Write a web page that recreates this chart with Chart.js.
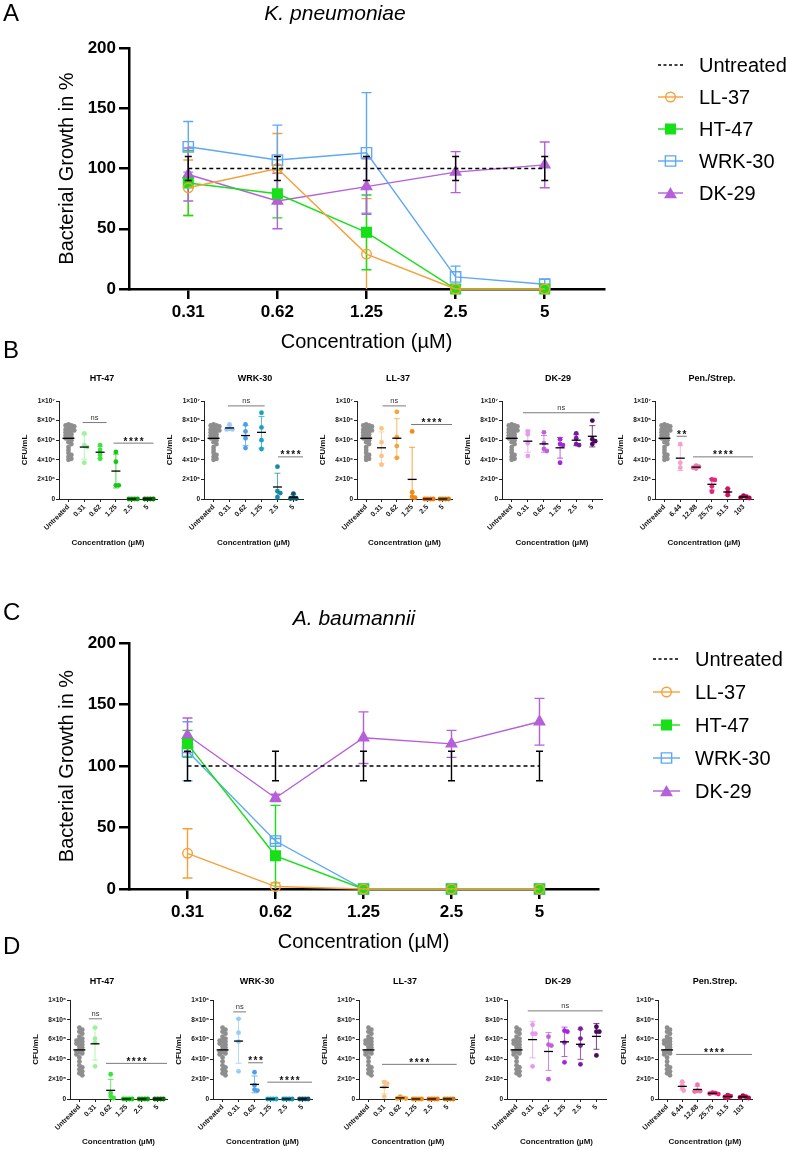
<!DOCTYPE html>
<html>
<head>
<meta charset="utf-8">
<script src="https://cdn.jsdelivr.net/npm/chart.js@4.4.1/dist/chart.umd.min.js"></script>
<style>
  body { margin: 0; background: #fff; font-family: "Liberation Sans", Arial, sans-serif; }
  #page { position: relative; width: 787px; height: 1150px; overflow: hidden; }
  canvas { position: absolute; }
  .letter { position: absolute; left: 3px; font-size: 24px; line-height: 24px; z-index: 2; }
  .species { position: absolute; width: 300px; text-align: center; font-size: 21px; line-height: 21px; font-style: italic; z-index: 2; }
</style>
</head>
<body>
<div id="page">
  <div class="letter" style="top:1px">A</div>
  <div class="letter" style="top:338px">B</div>
  <div class="letter" style="top:600px">C</div>
  <div class="letter" style="top:934px">D</div>
  <div class="species" style="left:185px;top:2px">K. pneumoniae</div>
  <div class="species" style="left:204px;top:607px">A. baumannii</div>
</div>
<script>
// ---- growth curves (% of untreated, mean and SD) ----
const concLabels = ['0.31', '0.62', '1.25', '2.5', '5'];

const kpUntreated = [100, 100, 100, 100, 100];
const kpUntreatedSd = [10, 10, 10, 10, 10];
const kpLL37 = [84, 100, 29, 0, 0];
const kpLL37Sd = [23, 29, 46, 0, 0];
const kpHT47 = [88, 79, 47, 0, 0];
const kpHT47Sd = [27, 20, 31, 0, 0];
const kpWRK30 = [118, 107, 113, 10, 4];
const kpWRK30Sd = [21, 29, 50, 9, 4];
const kpDK29 = [95, 73, 85, 97, 103];
const kpDK29Sd = [22, 23, 23, 17, 19];

const abUntreated = [100, 100, 100, 100, 100];
const abUntreatedSd = [12, 12, 12, 12, 12];
const abLL37 = [29, 2, 0, 0, 0];
const abLL37Sd = [20, 3, 0, 0, 0];
const abHT47 = [118, 27, 0, 0, 0];
const abHT47Sd = [11, 41, 0, 0, 0];
const abWRK30 = [112, 39, 0, 0, 0];
const abWRK30Sd = [24, 2, 0, 0, 0];
const abDK29 = [125, 74, 123, 118, 136];
const abDK29Sd = [14, 3, 21, 11, 19];

// ---- CFU/mL dot plots ----
const peptideDoses = ['Untreated', '0.31', '0.62', '1.25', '2.5', '5'];
const penStrepDoses = ['Untreated', '6.44', '12.88', '25.75', '51.5', '103'];

// K. pneumoniae, units of 10^6 CFU/mL
const kpCfuUntreated = [7.6, 7.5, 7.5, 7.4, 7.3, 7.2, 7.1, 7.0, 7.0, 6.9, 6.8, 6.7, 6.6, 6.5,
  6.4, 6.3, 6.2, 6.1, 6.0, 5.8, 5.6, 5.3, 5.0, 4.7, 4.5, 4.3, 4.1, 4.0];
const kpCfuHT47 = [[6.7, 5.5, 5.3, 3.7], [5.5, 5.0, 4.5, 4.1], [4.8, 3.8, 1.4, 1.4], [0, 0, 0, 0], [0, 0, 0, 0]];
const kpCfuWRK30 = [[7.6, 7.2, 7.1, 7.1], [7.6, 6.9, 6.2, 5.2], [8.8, 7.3, 6.0, 5.1], [3.3, 0.8, 0.6, 0.2], [0.55, 0.1, 0.05, 0.05]];
const kpCfuLL37 = [[7.2, 5.8, 4.4, 3.5], [8.9, 6.3, 5.4, 4.2], [6.9, 0.7, 0.25, 0.15], [0, 0, 0, 0], [0, 0, 0, 0]];
const kpCfuDK29 = [[6.9, 6.6, 5.7, 4.4], [6.8, 5.7, 5.1, 4.9], [6.1, 5.6, 5.5, 3.7], [6.7, 6.2, 5.6, 5.5], [8.0, 6.1, 5.9, 5.6]];
const kpCfuPenStrep = [[5.6, 3.7, 3.2], [3.4, 3.3, 3.2, 3.1], [2.0, 1.95, 1.3, 0.75], [1.05, 0.7, 0.4], [0.35, 0.25, 0.15, 0.1]];

// A. baumannii, units of 10^5 CFU/mL
const abCfuUntreated = [7.2, 7.0, 6.8, 6.6, 6.3, 6.1, 6.0, 5.9, 5.8, 5.7, 5.6, 5.5, 5.3, 5.2,
  5.0, 4.9, 4.8, 4.7, 4.6, 4.5, 4.2, 3.8, 3.4, 3.2, 3.0, 2.8, 2.6, 2.4];
const abCfuHT47 = [[7.2, 6.1, 5.7, 3.3], [2.5, 0.6, 0.3, 0.1], [0, 0, 0, 0], [0, 0, 0, 0], [0, 0, 0, 0]];
const abCfuWRK30 = [[8.1, 6.7, 5.8, 2.8], [2.7, 1.4, 0.95, 0.85], [0, 0, 0, 0], [0, 0, 0, 0], [0, 0, 0, 0]];
const abCfuLL37 = [[1.7, 1.55, 1.2, 0.25], [0.25, 0.1, 0.05, 0.05], [0, 0, 0, 0], [0, 0, 0, 0], [0, 0, 0, 0]];
const abCfuDK29 = [[7.5, 6.6, 6.6, 3.3], [6.3, 5.5, 5.4, 2.0], [6.9, 6.8, 5.7, 3.7], [7.1, 6.1, 5.4, 3.5], [7.3, 6.8, 6.8, 4.4]];
const abCfuPenStrep = [[1.75, 1.4, 1.1, 0.85], [1.45, 0.85, 0.8, 0.75], [0.65, 0.6, 0.55, 0.5], [0.4, 0.3, 0.2, 0.1], [0.35, 0.25, 0.15, 0.1]];

// colours
const untreatedGray = '#8e8e8e';
const ht47Colors = ['#9ef09e', '#3be33b', '#14c814', '#0a9a0a', '#046b04'];
const wrk30Colors = ['#9ccbf5', '#4e9fea', '#1ca4be', '#158aa3', '#0e5468'];
const ll37Colors = ['#f9c48a', '#f6a437', '#f58a12', '#f27512', '#c97a16'];
const dk29Colors = ['#e59beb', '#c160da', '#a526e0', '#7a1b9e', '#4b0a5c'];
const penColors = ['#f5a0c6', '#f176ac', '#e8237e', '#cf1263', '#a30d4d'];

Chart.defaults.font.family = '"Liberation Sans", Arial, sans-serif';
Chart.defaults.color = '#000';

function addCanvas(left, top, w, h) {
  const c = document.createElement('canvas');
  c.width = w;
  c.height = h;
  c.style.left = left + 'px';
  c.style.top = top + 'px';
  c.style.width = w + 'px';
  c.style.height = h + 'px';
  document.getElementById('page').appendChild(c);
  return c;
}

// draw a legend marker by hand
function marker(ctx, style, x, y, r, color, filled) {
  ctx.beginPath();
  if (style === 'circle') {
    ctx.arc(x, y, r, 0, Math.PI * 2);
  } else if (style === 'rect') {
    const s = r * Math.SQRT1_2;
    ctx.rect(x - s, y - s, 2 * s, 2 * s);
  } else if (style === 'triangle') {
    for (let k = 0; k < 3; k++) {
      const a = -Math.PI / 2 + k * 2 * Math.PI / 3;
      const px = x + Math.cos(a) * r, py = y + Math.sin(a) * r + r * 0.25;
      if (k === 0) ctx.moveTo(px, py); else ctx.lineTo(px, py);
    }
    ctx.closePath();
  }
  if (filled) { ctx.fillStyle = color; ctx.fill(); }
  ctx.strokeStyle = color;
  ctx.lineWidth = 1.4;
  ctx.stroke();
}

function growthChart(top, areaTop, padRight, series, legend) {
  const cv = addCanvas(0, top, 787, 360);
  const datasets = series.map(s => ({
    label: s.label,
    data: s.values.map((v, i) => ({ x: i, y: v })),
    sd: s.sd,
    borderColor: s.color,
    borderWidth: s.dashed ? 1.6 : 1.4,
    borderDash: s.dashed ? [4, 3] : [],
    pointStyle: s.pointStyle || 'circle',
    pointRadius: s.radius || 0,
    pointBackgroundColor: s.filled ? s.color : 'rgba(0,0,0,0)',
    pointBorderColor: s.color,
    pointBorderWidth: 1.4,
    clip: false,
    tension: 0
  }));

  const bars = (chart, black) => {
    const { ctx, scales: { x, y } } = chart;
    ctx.save();
    chart.data.datasets.forEach(ds => {
      const isBlack = ds.borderColor === '#000';
      if (isBlack !== black) return;
      ctx.strokeStyle = ds.borderColor;
      ctx.lineWidth = 1.4;
      const cap = black ? 3.5 : 5;
      ds.data.forEach((p, i) => {
        const s = ds.sd[i];
        if (!s) return;
        const px = x.getPixelForValue(p.x);
        const t = y.getPixelForValue(p.y + s);
        const b = y.getPixelForValue(Math.max(0, p.y - s));
        ctx.beginPath();
        ctx.moveTo(px, t); ctx.lineTo(px, b);
        ctx.moveTo(px - cap, t); ctx.lineTo(px + cap, t);
        if (p.y - s > 0) { ctx.moveTo(px - cap, b); ctx.lineTo(px + cap, b); }
        ctx.stroke();
      });
    });
    ctx.restore();
  };

  const extras = {
    id: 'growthExtras',
    beforeDatasetsDraw(chart) { bars(chart, false); },
    afterDatasetsDraw(chart) { bars(chart, true); },
    afterDraw(chart) {
      const ctx = chart.ctx;
      ctx.save();
      series.forEach((s, k) => {
        const y = legend.y0 + k * legend.step;
        ctx.strokeStyle = s.color;
        ctx.lineWidth = 1.4;
        ctx.setLineDash(s.dashed ? [3, 2.5] : []);
        ctx.beginPath();
        ctx.moveTo(legend.x0, y); ctx.lineTo(legend.x1, y);
        ctx.stroke();
        ctx.setLineDash([]);
        if (s.pointStyle) marker(ctx, s.pointStyle, (legend.x0 + legend.x1) / 2, y, s.radius, s.color, s.filled);
        ctx.fillStyle = '#000';
        ctx.font = '20px "Liberation Sans", Arial, sans-serif';
        ctx.textBaseline = 'middle';
        ctx.textAlign = 'left';
        ctx.fillText(s.label, legend.tx, y + 1);
      });
      ctx.restore();
    }
  };

  return new Chart(cv, {
    type: 'line',
    data: { datasets },
    options: {
      responsive: false,
      animation: false,
      events: [],
      layout: { padding: { left: 0, top: areaTop, right: padRight, bottom: 0 } },
      plugins: { legend: { display: false }, tooltip: { enabled: false } },
      scales: {
        x: {
          type: 'linear', min: -0.665, max: 4.665,
          afterBuildTicks: sc => { sc.ticks = concLabels.map((_, i) => ({ value: i })); },
          afterFit: sc => { sc.height = 71; },
          ticks: { callback: v => concLabels[v], font: { size: 17, weight: 'bold' }, color: '#000', padding: 3, maxRotation: 0 },
          grid: { drawOnChartArea: false, tickLength: 10, color: '#000', lineWidth: 2.5 },
          border: { color: '#000', width: 2.5 },
          title: { display: true, text: 'Concentration (µM)', font: { size: 20 }, color: '#000', padding: { top: 0, bottom: 6 } }
        },
        y: {
          min: 0, max: 200,
          afterFit: sc => { sc.width = 129; },
          ticks: { stepSize: 50, font: { size: 17, weight: 'bold' }, color: '#000', padding: 3 },
          grid: { drawOnChartArea: false, tickLength: 10, color: '#000', lineWidth: 2.5 },
          border: { color: '#000', width: 2.5 },
          title: { display: true, text: 'Bacterial Growth in %', font: { size: 20 }, color: '#000', padding: { top: 55, bottom: 0 } }
        }
      }
    },
    plugins: [extras]
  });
}

function styleSeries(u, uSd, ll, llSd, ht, htSd, wrk, wrkSd, dk, dkSd) {
  return [
    { label: 'Untreated', values: u, sd: uSd, color: '#000', dashed: true },
    { label: 'LL-37', values: ll, sd: llSd, color: '#f5a03a', pointStyle: 'circle', radius: 4.8, filled: false },
    { label: 'HT-47', values: ht, sd: htSd, color: '#16e016', pointStyle: 'rect', radius: 6.8, filled: true },
    { label: 'WRK-30', values: wrk, sd: wrkSd, color: '#5ea8f4', pointStyle: 'rect', radius: 7.3, filled: false },
    { label: 'DK-29', values: dk, sd: dkSd, color: '#b55fd9', pointStyle: 'triangle', radius: 6, filled: true }
  ];
}

growthChart(0, 48, 183,
  styleSeries(kpUntreated, kpUntreatedSd, kpLL37, kpLL37Sd, kpHT47, kpHT47Sd, kpWRK30, kpWRK30Sd, kpDK29, kpDK29Sd),
  { x0: 658, x1: 683, tx: 699, y0: 65, step: 32 });
growthChart(600, 43, 189,
  styleSeries(abUntreated, abUntreatedSd, abLL37, abLL37Sd, abHT47, abHT47Sd, abWRK30, abWRK30Sd, abDK29, abDK29Sd),
  { x0: 653, x1: 680, tx: 695, y0: 59, step: 33 });

// ---- dot plots ----
const SUP = '⁰¹²³⁴⁵⁶⁷⁸⁹';
function sciLabel(n) {
  if (n === 0) return '0';
  const e = Math.floor(Math.log10(n) + 1e-9);
  const m = Math.round(n / Math.pow(10, e));
  return m + '×10' + String(e).split('').map(d => SUP[+d]).join('');
}

function stats(vals) {
  const mean = vals.reduce((a, b) => a + b, 0) / vals.length;
  const varr = vals.reduce((a, b) => a + (b - mean) * (b - mean), 0) / Math.max(1, vals.length - 1);
  return { mean, sd: Math.sqrt(varr) };
}

// simple beeswarm so overlapping points sit side by side
function swarm(vals, pxPerUnit, catPx, r) {
  const placed = [];
  const out = new Array(vals.length).fill(0);
  const idx = vals.map((_, i) => i).sort((a, b) => vals[b] - vals[a]);
  const minD = r * 1.15;
  idx.forEach(i => {
    const y = vals[i] * pxPerUnit;
    let dx = 0;
    for (let s = 0; s < 60; s++) {
      dx = s === 0 ? 0 : (s % 2 ? 1 : -1) * Math.ceil(s / 2) * r * 0.6;
      if (placed.every(p => Math.hypot(p.x - dx, p.y - y) >= minD)) break;
    }
    placed.push({ x: dx, y });
    out[i] = dx / catPx;
  });
  return out;
}

const bRow = { top: 365, height: 190, areaTop: 36, areaBottom: 134, titleY: 14, unit: 1e6, xTitlePad: 7.2 };
const dRow = { top: 966, height: 184, areaTop: 34, areaBottom: 133, titleY: 16, unit: 1e5, xTitlePad: 3.2 };

function dotChart(row, untreated, p) {
  const left = p.axisX - 60;
  const width = 60 + p.w + 12;
  const cv = addCanvas(left, row.top, width, row.height);
  const groups = [untreated].concat(p.groups);
  const colors = [untreatedGray].concat(p.colors);
  const pxPerUnit = (row.areaBottom - row.areaTop) / 10;
  const catPx = p.w / 6.2;

  const datasets = groups.map((vals, i) => {
    const r = 2.4;
    const offs = swarm(vals, pxPerUnit, catPx, r);
    return {
      data: vals.map((v, k) => ({ x: i + offs[k], y: v })),
      pointRadius: r,
      pointBackgroundColor: colors[i],
      pointBorderWidth: 0,
      clip: false
    };
  });

  const extras = {
    id: 'dotExtras',
    beforeDatasetsDraw(chart) {
      const { ctx, scales: { x, y } } = chart;
      ctx.save();
      ctx.globalAlpha = 0.75;
      ctx.lineWidth = 1;
      groups.forEach((vals, i) => {
        if (i === 0) return;
        const st = stats(vals);
        if (st.sd < 1e-6) return;
        const px = x.getPixelForValue(i);
        const t = y.getPixelForValue(st.mean + st.sd);
        const b = y.getPixelForValue(Math.max(0, st.mean - st.sd));
        ctx.strokeStyle = colors[i];
        ctx.beginPath();
        ctx.moveTo(px, t); ctx.lineTo(px, b);
        ctx.moveTo(px - 3, t); ctx.lineTo(px + 3, t);
        ctx.moveTo(px - 3, b); ctx.lineTo(px + 3, b);
        ctx.stroke();
      });
      ctx.restore();
    },
    afterDatasetsDraw(chart) {
      const { ctx, chartArea, scales: { x, y } } = chart;
      ctx.save();
      ctx.strokeStyle = '#000';
      ctx.lineWidth = 1.3;
      groups.forEach((vals, i) => {
        const st = stats(vals);
        const px = x.getPixelForValue(i);
        const py = y.getPixelForValue(st.mean);
        const hw = i === 0 ? 6 : 4.5;
        ctx.beginPath();
        ctx.moveTo(px - hw, py); ctx.lineTo(px + hw, py);
        ctx.stroke();
      });
      // significance brackets
      p.brackets.forEach(b => {
        const x1 = x.getPixelForValue(b[0]), x2 = x.getPixelForValue(b[1]);
        const yy = y.getPixelForValue(b[2]);
        ctx.strokeStyle = '#7a7a7a';
        ctx.lineWidth = 1;
        ctx.beginPath();
        ctx.moveTo(x1, yy); ctx.lineTo(x2, yy);
        ctx.stroke();
        const stars = /^\*+$/.test(b[3]);
        ctx.textAlign = 'center';
        ctx.textBaseline = 'alphabetic';
        if (stars) {
          ctx.font = 'bold 10px "Liberation Sans", Arial, sans-serif';
          ctx.letterSpacing = '1.5px';
          ctx.fillStyle = '#111';
          ctx.fillText(b[3], (x1 + x2) / 2 + 0.75, yy + 1.5);
          ctx.letterSpacing = '0px';
        } else {
          ctx.font = '7.5px "Liberation Sans", Arial, sans-serif';
          ctx.fillStyle = '#333';
          ctx.fillText(b[3], (x1 + x2) / 2, yy - 3);
        }
      });
      // panel title
      ctx.fillStyle = '#000';
      ctx.font = 'bold 9px "Liberation Sans", Arial, sans-serif';
      ctx.textAlign = 'center';
      ctx.textBaseline = 'middle';
      ctx.fillText(p.title, chartArea.left + p.titleDx, row.titleY);
      ctx.restore();
    }
  };

  return new Chart(cv, {
    type: 'scatter',
    data: { datasets },
    options: {
      responsive: false,
      animation: false,
      events: [],
      layout: { padding: { left: 0, top: row.areaTop, right: 12, bottom: 0 } },
      plugins: { legend: { display: false }, tooltip: { enabled: false } },
      scales: {
        x: {
          type: 'linear', min: -0.6, max: 5.6,
          afterBuildTicks: sc => { sc.ticks = p.doses.map((_, i) => ({ value: i })); },
          afterFit: sc => { sc.height = row.height - row.areaBottom; },
          ticks: { callback: v => p.doses[v], autoSkip: false, minRotation: 45, maxRotation: 45, font: { size: 7, weight: 'bold' }, color: '#111', padding: 1 },
          grid: { drawOnChartArea: false, tickLength: 3, color: '#222', lineWidth: 1 },
          border: { color: '#222', width: 1 },
          title: { display: true, text: 'Concentration (µM)', font: { size: 8, weight: 'bold' }, color: '#111', padding: { top: 0, bottom: row.xTitlePad } }
        },
        y: {
          min: 0, max: 10,
          afterFit: sc => { sc.width = 60; },
          ticks: { stepSize: 2, callback: v => sciLabel(v * row.unit), font: { size: 6.5, weight: 'bold' }, color: '#111', padding: 1 },
          grid: { drawOnChartArea: false, tickLength: 3, color: '#222', lineWidth: 1 },
          border: { color: '#222', width: 1 },
          title: { display: true, text: 'CFU/mL', font: { size: 8, weight: 'bold' }, color: '#111', padding: { top: 21, bottom: 0 } }
        }
      }
    },
    plugins: [extras]
  });
}

const bPanels = [
  { title: 'HT-47', axisX: 59, w: 98, titleDx: 43, doses: peptideDoses, groups: kpCfuHT47, colors: ht47Colors,
    brackets: [[0.89, 2.41, 7.8, 'ns'], [2.85, 5.38, 5.7, '****']] },
  { title: 'WRK-30', axisX: 204, w: 99, titleDx: 51, doses: peptideDoses, groups: kpCfuWRK30, colors: wrk30Colors,
    brackets: [[0.9, 3.2, 9.5, 'ns'], [4.04, 5.6, 4.3, '****']] },
  { title: 'LL-37', axisX: 357, w: 95, titleDx: 41, doses: peptideDoses, groups: kpCfuLL37, colors: ll37Colors,
    brackets: [[1.07, 2.6, 9.5, 'ns'], [2.93, 5.6, 7.6, '****']] },
  { title: 'DK-29', axisX: 502, w: 100, titleDx: 56, doses: peptideDoses, groups: kpCfuDK29, colors: dk29Colors,
    brackets: [[0.7, 5.45, 8.8, 'ns']] },
  { title: 'Pen./Strep.', axisX: 655, w: 98, titleDx: 57, doses: penStrepDoses, groups: kpCfuPenStrep, colors: penColors,
    brackets: [[0.77, 1.41, 6.4, '**'], [1.8, 5.6, 4.3, '****']] }
];
const dPanels = [
  { title: 'HT-47', axisX: 70, w: 97, titleDx: 32, doses: peptideDoses, groups: abCfuHT47, colors: ht47Colors,
    brackets: [[0.6, 1.45, 8.1, 'ns'], [1.7, 5.6, 3.6, '****']] },
  { title: 'WRK-30', axisX: 213, w: 99, titleDx: 44, doses: peptideDoses, groups: abCfuWRK30, colors: wrk30Colors,
    brackets: [[0.67, 1.47, 8.8, 'ns'], [1.6, 2.53, 3.66, '***'], [2.8, 5.6, 1.7, '****']] },
  { title: 'LL-37', axisX: 359, w: 98, titleDx: 46, doses: peptideDoses, groups: abCfuLL37, colors: ll37Colors,
    brackets: [[0.85, 5.58, 3.5, '****']] },
  { title: 'DK-29', axisX: 507, w: 99, titleDx: 51, doses: peptideDoses, groups: abCfuDK29, colors: dk29Colors,
    brackets: [[0.7, 5.4, 8.9, 'ns']] },
  { title: 'Pen.Strep.', axisX: 658, w: 94, titleDx: 57, doses: penStrepDoses, groups: abCfuPenStrep, colors: penColors,
    brackets: [[0.6, 5.6, 4.5, '****']] }
];

bPanels.forEach(p => dotChart(bRow, kpCfuUntreated, p));
dPanels.forEach(p => dotChart(dRow, abCfuUntreated, p));
</script>
</body>
</html>
